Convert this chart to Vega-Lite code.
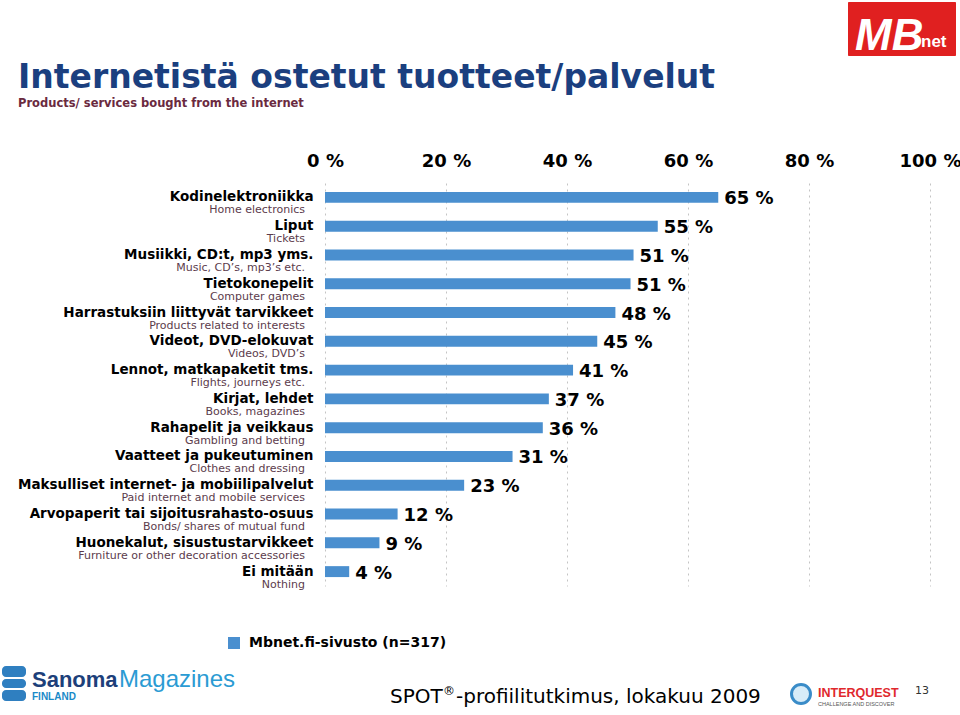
{
  "$schema": "https://vega.github.io/schema/vega-lite/v6.json",
  "width": 605,
  "height": 403,
  "autosize": {"type": "none"},
  "padding": {"left": 325, "top": 183, "right": 30, "bottom": 129},
  "background": "white",
  "config": {"view": {"stroke": null}, "font": "DejaVu Sans"},
  "title": {
    "text": "Internetistä ostetut tuotteet/palvelut",
    "subtitle": "Products/ services bought from the internet",
    "anchor": "start",
    "frame": "group",
    "dx": -307,
    "offset": -107,
    "font": "DejaVu Sans",
    "fontSize": 33,
    "fontWeight": "bold",
    "color": "#1b3f7f",
    "subtitleFont": "DejaVu Sans",
    "subtitleFontSize": 11.5,
    "subtitleFontWeight": "bold",
    "subtitleColor": "#6a2a40",
    "subtitlePadding": 3
  },
  "data": {
    "values": [
      {"fi": "Kodinelektroniikka", "en": "Home electronics", "value": 65, "label": "65 %", "series": "Mbnet.fi-sivusto (n=317)"},
      {"fi": "Liput", "en": "Tickets", "value": 55, "label": "55 %", "series": "Mbnet.fi-sivusto (n=317)"},
      {"fi": "Musiikki, CD:t, mp3 yms.", "en": "Music, CD’s, mp3’s etc.", "value": 51, "label": "51 %", "series": "Mbnet.fi-sivusto (n=317)"},
      {"fi": "Tietokonepelit", "en": "Computer games", "value": 50.5, "label": "51 %", "series": "Mbnet.fi-sivusto (n=317)"},
      {"fi": "Harrastuksiin liittyvät tarvikkeet", "en": "Products related to interests", "value": 48, "label": "48 %", "series": "Mbnet.fi-sivusto (n=317)"},
      {"fi": "Videot, DVD-elokuvat", "en": "Videos, DVD’s", "value": 45, "label": "45 %", "series": "Mbnet.fi-sivusto (n=317)"},
      {"fi": "Lennot, matkapaketit tms.", "en": "Flights, journeys etc.", "value": 41, "label": "41 %", "series": "Mbnet.fi-sivusto (n=317)"},
      {"fi": "Kirjat, lehdet", "en": "Books, magazines", "value": 37, "label": "37 %", "series": "Mbnet.fi-sivusto (n=317)"},
      {"fi": "Rahapelit ja veikkaus", "en": "Gambling and betting", "value": 36, "label": "36 %", "series": "Mbnet.fi-sivusto (n=317)"},
      {"fi": "Vaatteet ja pukeutuminen", "en": "Clothes and dressing", "value": 31, "label": "31 %", "series": "Mbnet.fi-sivusto (n=317)"},
      {"fi": "Maksulliset internet- ja mobiilipalvelut", "en": "Paid internet and mobile services", "value": 23, "label": "23 %", "series": "Mbnet.fi-sivusto (n=317)"},
      {"fi": "Arvopaperit tai sijoitusrahasto-osuus", "en": "Bonds/ shares of mutual fund", "value": 12, "label": "12 %", "series": "Mbnet.fi-sivusto (n=317)"},
      {"fi": "Huonekalut, sisustustarvikkeet", "en": "Furniture or other decoration accessories", "value": 9, "label": "9 %", "series": "Mbnet.fi-sivusto (n=317)"},
      {"fi": "Ei mitään", "en": "Nothing", "value": 4, "label": "4 %", "series": "Mbnet.fi-sivusto (n=317)"}
    ]
  },
  "layer": [
    {
      "mark": {"type": "bar", "cornerRadius": 0},
      "encoding": {
        "x": {
          "field": "value",
          "type": "quantitative",
          "scale": {"domain": [0, 100], "nice": false},
          "axis": {
            "orient": "top",
            "title": null,
            "values": [0, 20, 40, 60, 80, 100],
            "labelExpr": "datum.value + ' %'",
            "labelFont": "DejaVu Sans",
            "labelFontSize": 18,
            "labelFontWeight": "bold",
            "labelColor": "#000000",
            "labelPadding": 13,
            "ticks": false,
            "tickSize": 0,
            "domain": false,
            "grid": true,
            "gridColor": "#c4c4c4",
            "gridDash": [2, 4],
            "gridWidth": 1,
            "labelFlush": false
          }
        },
        "y": {
          "field": "fi",
          "type": "nominal",
          "sort": null,
          "scale": {"paddingInner": 0.62, "paddingOuter": 0.31},
          "axis": {
            "title": null,
            "ticks": false,
            "domain": false,
            "labelPadding": 12,
            "labelFont": "DejaVu Sans",
            "labelFontSize": 13.5,
            "labelFontWeight": "bold",
            "labelColor": "#000000",
            "labelLimit": 400
          }
        },
        "color": {
          "field": "series",
          "type": "nominal",
          "scale": {"range": ["#4a8fcf"]},
          "legend": {
            "orient": "none",
            "legendX": -98,
            "legendY": 453,
            "title": null,
            "symbolType": "square",
            "symbolSize": 144,
            "symbolStrokeWidth": 0,
            "labelFont": "DejaVu Sans",
            "labelFontSize": 14,
            "labelFontWeight": "bold",
            "labelColor": "#000000",
            "labelOffset": 8,
            "labelLimit": 300
          }
        }
      }
    },
    {
      "mark": {"type": "text", "align": "left", "baseline": "middle", "dx": 6, "dy": 2, "font": "DejaVu Sans", "fontSize": 18, "fontWeight": "bold", "color": "#000000"},
      "encoding": {
        "x": {"field": "value", "type": "quantitative"},
        "y": {"field": "fi", "type": "nominal", "sort": null},
        "text": {"field": "label"}
      }
    },
    {
      "mark": {"type": "text", "align": "right", "baseline": "middle", "dx": -20, "dy": 13, "font": "DejaVu Sans", "fontSize": 11, "color": "#5c3c4c"},
      "encoding": {
        "x": {"datum": 0},
        "y": {"field": "fi", "type": "nominal", "sort": null},
        "text": {"field": "en"}
      }
    },
    {
      "data": {"values": [{"k": "mb"}]},
      "mark": {"type": "rect", "color": "#e02020", "cornerRadius": 1},
      "encoding": {"x": {"value": 523}, "x2": {"value": 631}, "y": {"value": -181}, "y2": {"value": -127}}
    },
    {
      "data": {"values": [{"t": "MB"}]},
      "mark": {"type": "text", "align": "left", "baseline": "alphabetic", "font": "Liberation Sans", "fontSize": 44, "fontWeight": "bold", "fontStyle": "italic", "color": "#ffffff"},
      "encoding": {"x": {"value": 530}, "y": {"value": -133}, "text": {"field": "t"}}
    },
    {
      "data": {"values": [{"t": "net"}]},
      "mark": {"type": "text", "align": "left", "baseline": "alphabetic", "font": "Liberation Sans", "fontSize": 17, "fontWeight": "bold", "color": "#ffffff"},
      "encoding": {"x": {"value": 596}, "y": {"value": -136}, "text": {"field": "t"}}
    },
    {
      "data": {"values": [{"c": 483, "d": 494}, {"c": 496, "d": 505}, {"c": 507, "d": 518}]},
      "mark": {"type": "rect", "color": "#2f7fc0", "cornerRadius": 4},
      "encoding": {"x": {"value": -323}, "x2": {"value": -299}, "y": {"field": "c", "type": "quantitative", "scale": null}, "y2": {"field": "d"}}
    },
    {
      "data": {"values": [{"t": "Sanoma"}]},
      "mark": {"type": "text", "align": "left", "baseline": "alphabetic", "font": "Liberation Sans", "fontSize": 22, "fontWeight": "bold", "color": "#1d3f7a"},
      "encoding": {"x": {"value": -293}, "y": {"value": 504}, "text": {"field": "t"}}
    },
    {
      "data": {"values": [{"t": "Magazines"}]},
      "mark": {"type": "text", "align": "left", "baseline": "alphabetic", "font": "Liberation Sans", "fontSize": 24, "color": "#2b9bd3"},
      "encoding": {"x": {"value": -206}, "y": {"value": 504}, "text": {"field": "t"}}
    },
    {
      "data": {"values": [{"t": "FINLAND"}]},
      "mark": {"type": "text", "align": "left", "baseline": "middle", "font": "Liberation Sans", "fontSize": 10, "fontWeight": "bold", "color": "#1a8ac8"},
      "encoding": {"x": {"value": -293}, "y": {"value": 514}, "text": {"field": "t"}}
    },
    {
      "data": {"values": [{"t": "SPOT"}]},
      "mark": {"type": "text", "align": "left", "baseline": "alphabetic", "font": "DejaVu Sans", "fontSize": 20, "color": "#000000"},
      "encoding": {"x": {"value": 65}, "y": {"value": 520}, "text": {"field": "t"}}
    },
    {
      "data": {"values": [{"t": "®"}]},
      "mark": {"type": "text", "align": "left", "baseline": "alphabetic", "font": "DejaVu Sans", "fontSize": 12, "color": "#000000"},
      "encoding": {"x": {"value": 118}, "y": {"value": 512}, "text": {"field": "t"}}
    },
    {
      "data": {"values": [{"t": "-profiilitutkimus, lokakuu 2009"}]},
      "mark": {"type": "text", "align": "left", "baseline": "alphabetic", "font": "DejaVu Sans", "fontSize": 20, "color": "#000000"},
      "encoding": {"x": {"value": 131}, "y": {"value": 520}, "text": {"field": "t"}}
    },
    {
      "data": {"values": [{"k": "q"}]},
      "mark": {"type": "point", "shape": "circle", "filled": false, "stroke": "#3a8cc8", "strokeWidth": 3, "fill": "#d8ecf8", "fillOpacity": 1, "opacity": 1, "size": 360},
      "encoding": {"x": {"value": 476}, "y": {"value": 511}}
    },
    {
      "data": {"values": [{"t": "INTERQUEST"}]},
      "mark": {"type": "text", "align": "left", "baseline": "alphabetic", "font": "Liberation Sans", "fontSize": 12.5, "fontWeight": "bold", "color": "#e0282d"},
      "encoding": {"x": {"value": 493}, "y": {"value": 514}, "text": {"field": "t"}}
    },
    {
      "data": {"values": [{"t": "CHALLENGE AND DISCOVER"}]},
      "mark": {"type": "text", "align": "left", "baseline": "middle", "font": "Liberation Sans", "fontSize": 5.5, "color": "#555555"},
      "encoding": {"x": {"value": 493}, "y": {"value": 521}, "text": {"field": "t"}}
    },
    {
      "data": {"values": [{"t": "13"}]},
      "mark": {"type": "text", "align": "left", "baseline": "alphabetic", "font": "DejaVu Sans", "fontSize": 11, "color": "#333333"},
      "encoding": {"x": {"value": 590}, "y": {"value": 511}, "text": {"field": "t"}}
    }
  ]
}
